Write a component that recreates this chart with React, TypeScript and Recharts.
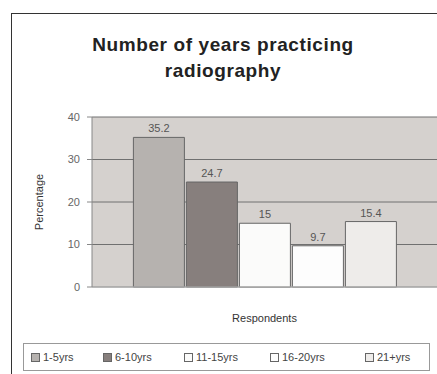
import React from "react";
import { BarChart, Bar, XAxis, YAxis, CartesianGrid, LabelList, Label } from "recharts";

const seriesNames = ["1-5yrs", "6-10yrs", "11-15yrs", "16-20yrs", "21+yrs"];
const seriesValues = [35.2, 24.7, 15, 9.7, 15.4];
const seriesColors = ["#b6b2af", "#877f7d", "#fbfbfa", "#fdfdfd", "#eeecea"];
const yTicks = [0, 10, 20, 30, 40];
const category = "Respondents";

const row: Record<string, string | number> = { name: category };
seriesNames.forEach((n, i) => {
  row[n] = seriesValues[i];
});
const data = [row];

const legendLeft = [7, 79, 160, 246, 341];

const font = "'Liberation Sans', Arial, sans-serif";

export default function App() {
  return (
    <div
      style={{
        position: "absolute",
        left: 0,
        top: 0,
        width: 437,
        height: 374,
        overflow: "hidden",
        background: "#fff",
        fontFamily: font,
      }}
    >
      <div
        style={{
          position: "absolute",
          left: 11,
          top: 13,
          width: 440,
          height: 380,
          border: "1.5px solid #333",
        }}
      />
      <div
        style={{
          position: "absolute",
          left: 0,
          top: 32,
          width: 446,
          textAlign: "center",
          fontSize: 19,
          fontWeight: "bold",
          letterSpacing: 0.6,
          lineHeight: "26px",
          color: "#222",
        }}
      >
        Number of years practicing
        <br />
        radiography
      </div>
      <BarChart
        width={437}
        height={374}
        data={data}
        margin={{ top: 117, right: 0, left: 0, bottom: 47 }}
        barCategoryGap="12%"
        barGap={2}
        style={{ position: "absolute", left: 0, top: 0 }}
      >
        <CartesianGrid vertical={false} stroke="#707070" fill="#d5d1ce" />
        <XAxis
          dataKey="name"
          tick={false}
          tickLine={false}
          axisLine={{ stroke: "#bbb" }}
          height={40}
        >
          <Label
            value={category}
            position="insideBottom"
            offset={5}
            style={{ fontSize: 11, fill: "#333", fontFamily: font }}
          />
        </XAxis>
        <YAxis
          width={92}
          domain={[0, 40]}
          ticks={yTicks}
          tickSize={5}
          tickMargin={7}
          tick={{ fontSize: 11, fill: "#666", fontFamily: font }}
          axisLine={{ stroke: "#888" }}
          tickLine={{ stroke: "#888" }}
        >
          <Label
            value="Percentage"
            angle={-90}
            position="insideLeft"
            offset={39}
            style={{ fontSize: 11, fill: "#333", fontFamily: font, textAnchor: "middle" }}
          />
        </YAxis>
        {seriesNames.map((n, i) => (
          <Bar
            key={n}
            dataKey={n}
            fill={seriesColors[i]}
            stroke="#666"
            strokeWidth={1}
            isAnimationActive={false}
          >
            <LabelList
              dataKey={n}
              position="top"
              style={{ fontSize: 11, fill: "#555", fontFamily: font }}
            />
          </Bar>
        ))}
      </BarChart>
      <div
        style={{
          position: "absolute",
          left: 23,
          top: 343,
          width: 407,
          height: 28,
          border: "1px solid #999",
          boxSizing: "border-box",
          fontSize: 11,
          color: "#444",
        }}
      >
        {seriesNames.map((n, i) => (
          <div
            key={n}
            style={{
              position: "absolute",
              left: legendLeft[i],
              top: 0,
              height: 26,
              display: "flex",
              alignItems: "center",
              whiteSpace: "nowrap",
            }}
          >
            <span
              style={{
                display: "inline-block",
                width: 7,
                height: 7,
                background: seriesColors[i],
                border: "1px solid #666",
                marginRight: 3,
              }}
            />
            {n}
          </div>
        ))}
      </div>
    </div>
  );
}
